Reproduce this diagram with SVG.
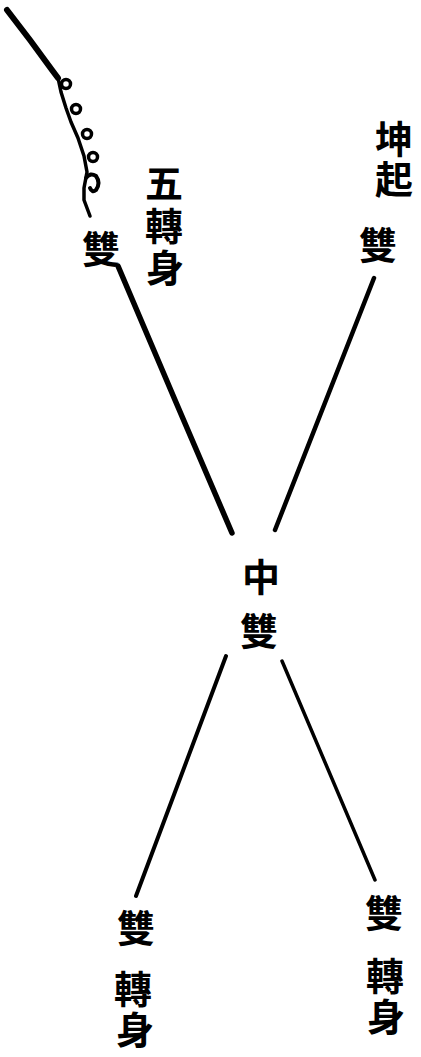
<svg xmlns="http://www.w3.org/2000/svg" width="421" height="1057" viewBox="0 0 421 1057">
<style>
.t{font-family:"Noto Sans CJK TC","Noto Sans CJK SC",sans-serif;font-weight:700;font-size:38px;fill:#000;text-anchor:middle;dominant-baseline:central}
.c{fill:none;stroke:#000;stroke-linecap:round;stroke-linejoin:round}
</style>
<rect width="421" height="1057" fill="#fff"/>
<g id="connectors">
<path class="c" d="M7,10 L30,40 L52,70 L58,78" stroke-width="6"/>
<path class="c" d="M58,78 L61,92 L66,108 L71,122 L78,138 L84,156 L87,172 L84,188 L84,200 L90,216" stroke-width="3.5"/>
<circle class="c" cx="66" cy="84" r="4.5" stroke-width="3.5"/>
<circle class="c" cx="76" cy="109" r="4.5" stroke-width="3.5"/>
<circle class="c" cx="87" cy="134" r="4.5" stroke-width="3.5"/>
<circle class="c" cx="93" cy="157" r="4.5" stroke-width="3.5"/>
<path class="c" d="M86,178 Q90,172 96,176 Q101,183 96,190 Q92,193 90,188" stroke-width="4"/>
<path class="c" d="M118,266 L175,400 L232,533" stroke-width="5.5"/>
<path class="c" d="M374,278 L275,530" stroke-width="4.5"/>
<path class="c" d="M226,656 L136,896" stroke-width="4"/>
<path class="c" d="M282,661 L375,880" stroke-width="3.5"/>
</g>
<g id="node-wuzhuanshen">
<text class="t" x="164" y="180" font-size="35">五</text>
<text class="t" x="164" y="223">轉</text>
<text class="t" x="165" y="265">身</text>
</g>
<g id="node-shuang-ul">
<text class="t" x="101" y="246" font-size="44">雙</text>
</g>
<g id="node-kunqi">
<text class="t" x="394" y="136">坤</text>
<text class="t" x="394" y="176">起</text>
</g>
<g id="node-shuang-ur">
<text class="t" x="378" y="242" font-size="44">雙</text>
</g>
<g id="node-zhongshuang">
<text class="t" x="261" y="574" font-size="42">中</text>
<text class="t" x="259" y="628" font-size="44">雙</text>
</g>
<g id="node-bl">
<text class="t" x="136" y="925" font-size="44">雙</text>
<text class="t" x="133" y="986">轉</text>
<text class="t" x="135" y="1027">身</text>
</g>
<g id="node-br">
<text class="t" x="384" y="910" font-size="44">雙</text>
<text class="t" x="385" y="973">轉</text>
<text class="t" x="386" y="1014">身</text>
</g>
</svg>
